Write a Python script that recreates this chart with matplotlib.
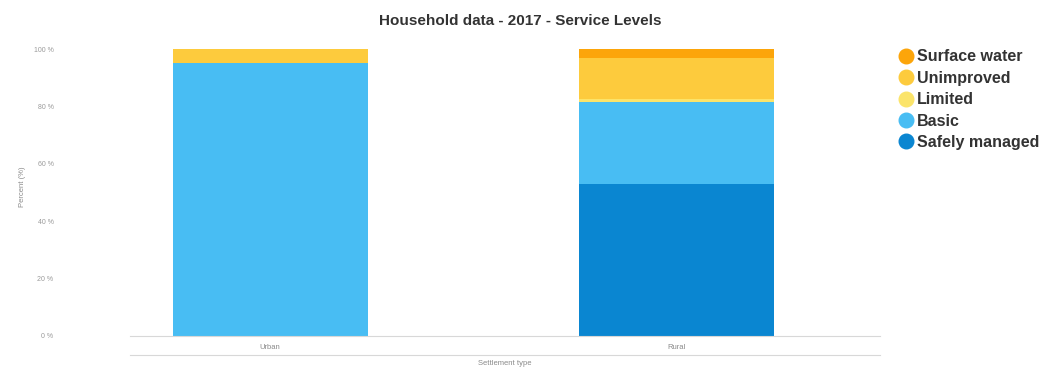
import matplotlib
matplotlib.use("Agg")
import matplotlib.pyplot as plt
from matplotlib.lines import Line2D

plt.rcParams["font.family"] = ["Liberation Sans", "DejaVu Sans"]

# Household water service levels, 2017 (percent of households)
categories = ["Urban", "Rural"]
levels = ["Safely managed", "Basic", "Limited", "Unimproved", "Surface water"]
safely_managed = [0.0, 53.0]
basic = [95.0, 28.5]
limited = [0.0, 1.0]
unimproved = [5.0, 14.5]
surface_water = [0.0, 3.0]
yticks = [0, 20, 40, 60, 80, 100]
ytick_labels = ["0 %", "20 %", "40 %", "60 %", "80 %", "100 %"]

series = [safely_managed, basic, limited, unimproved, surface_water]
colors = ["#0a86d1", "#48bdf3", "#fbe46a", "#fdcb3d", "#fca50a"]

fig = plt.figure(figsize=(10.4, 3.68), dpi=100)
ax = fig.add_axes([130 / 1040, 1 - 336 / 368, 750 / 1040, 287 / 368])

x = list(range(len(categories)))
bottom = [0.0] * len(categories)
for vals, col in zip(series, colors):
    ax.bar(x, vals, bottom=bottom, width=0.48, color=col, edgecolor="none")
    bottom = [b + v for b, v in zip(bottom, vals)]

ax.set_xlim(-0.345, 1.502)
ax.set_ylim(0, 100)
ax.set_yticks(yticks)
ax.set_yticklabels(ytick_labels, fontsize=5, color="#9a9a9a")
ax.set_xticks(x)
ax.set_xticklabels(categories, fontsize=5.5, color="#8a8a8a")
ax.tick_params(axis="x", length=0, pad=6)
ax.tick_params(axis="y", length=0, pad=55)
for name in ["top", "right", "left"]:
    ax.spines[name].set_visible(False)
ax.spines["bottom"].set_color("#d8d8d8")
ax.spines["bottom"].set_linewidth(0.8)

# secondary baseline under the category labels
ax.plot([0, 1], [-0.066, -0.066], transform=ax.transAxes, color="#d8d8d8",
        lw=0.8, clip_on=False)

ax.set_ylabel("Percent (%)", fontsize=5.5, color="#8a8a8a")
ax.yaxis.set_label_coords(-0.138, 0.52)
ax.set_xlabel("Settlement type", fontsize=5.5, color="#8a8a8a")
ax.xaxis.set_label_coords(0.5, -0.085)
ax.xaxis.label.set_verticalalignment("top")

fig.text(0.5, 1 - 21 / 368, "Household data - 2017 - Service Levels",
         ha="center", va="center", fontsize=11, fontweight="bold",
         color="#333333")

handles = [Line2D([], [], marker="o", linestyle="none", markersize=10.5,
                  markerfacecolor=c, markeredgecolor=c)
           for c in colors[::-1]]
leg = fig.legend(handles, levels[::-1], loc="upper left",
                 bbox_to_anchor=(890 / 1040, 1 - 43 / 368), frameon=False,
                 handletextpad=0.1, labelspacing=0.4, handlelength=1.2,
                 borderaxespad=0, prop={"size": 11.5, "weight": "bold"})
for t in leg.get_texts():
    t.set_color("#333333")

fig.savefig("out.png", dpi=100)
